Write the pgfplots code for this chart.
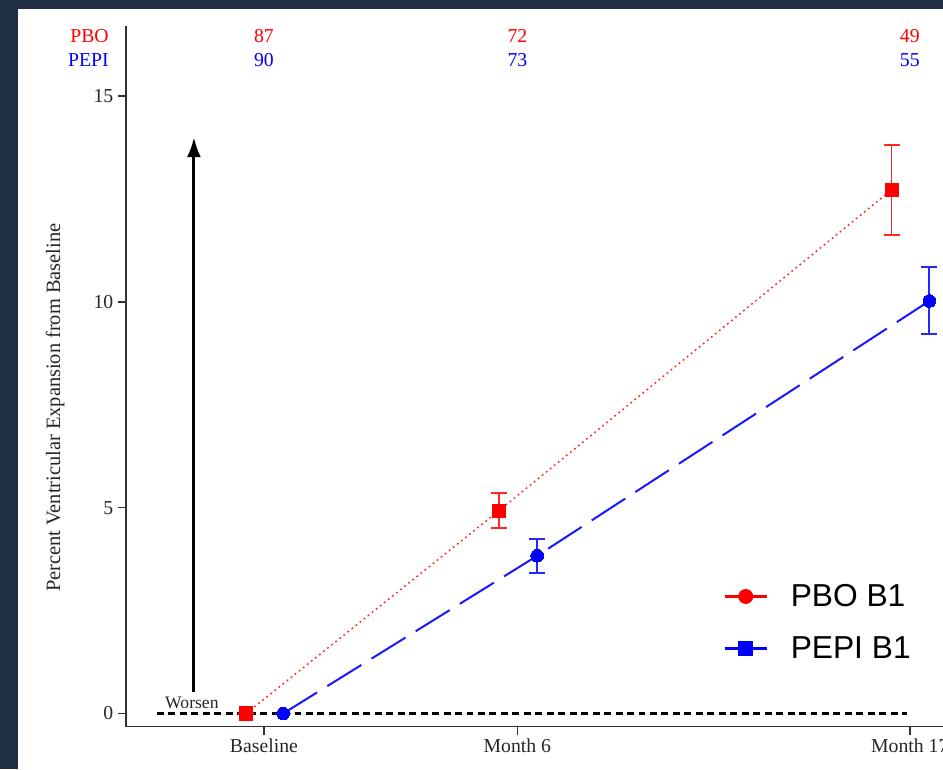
\documentclass[border=0pt]{standalone}
\usepackage{pgfplots}
\pgfplotsset{compat=1.18}
\usepackage{fontspec}
\setmainfont{Liberation Serif}
\newfontfamily\legfont{Liberation Sans}
\usetikzlibrary{arrows.meta}
\definecolor{navy}{RGB}{31,47,65}
\definecolor{pred}{RGB}{255,0,0}
\definecolor{pblue}{RGB}{0,0,255}
\definecolor{axgray}{RGB}{50,50,50}

\begin{document}
\begin{tikzpicture}[x=0.75pt,y=0.75pt]
\fill[navy] (0,0) rectangle (943,-769);
\fill[white] (18,-9) rectangle (943,-769);
\begin{axis}[
  at={(94.5pt,-544.875pt)}, anchor=south west,
  scale only axis, width=625.5pt, height=525.4pt,
  xmin=-0.544, xmax=2.746, ymin=-0.316, ymax=16.70,
  axis x line*=bottom, axis y line*=left,
  x axis line style={-}, y axis line style={-},
  axis line style={line width=1.4pt, axgray},
  clip=false,
  xtick={0,1,2.548}, xticklabels={Baseline, Month 6, Month 17},
  ytick={0,5,10,15},
  tick align=outside, major tick length=6pt,
  tick style={line width=1.1pt, axgray},
  /pgf/number format/assume math mode=true,
  ticklabel style={font=\fontsize{14.8}{17}\selectfont, text=black!85},
  ylabel={Percent Ventricular Expansion from Baseline},
  every axis y label/.style={at={(axis description cs:-0.0851,0.455)}, rotate=90, anchor=center, font=\fontsize{15.3}{17}\selectfont, text=black!85},
  legend style={draw=none, fill=none, at={(axis description cs:0.716,0.1486)}, anchor=west,
    font=\legfont\fontsize{23.8}{28}\selectfont, row sep=17pt, inner sep=0pt},
  legend cell align=left,
  legend image code/.code={\draw[mark repeat=2,mark phase=2,#1] plot coordinates {(0cm,0cm) (0.55cm,0cm) (1.1cm,0cm)};
     \path (1.1cm+15pt,0pt);},
]
% zero reference line
\addplot[forget plot, black, line width=1.9pt, dash pattern=on 5.2pt off 3.4pt] coordinates {(-0.422,0) (2.537,0)};
% PBO
\addplot[forget plot, pred!85!white, line width=1.1pt, dash pattern=on 1.3pt off 2.6pt, mark=square*, mark size=4.9pt,
  mark options={solid, fill=pred, draw=pred, line width=0pt},
  error bars/.cd, y dir=both, y explicit,
  error bar style={pred!85!white, line width=1.3pt, solid},
  error mark options={rotate=90, mark size=6pt, pred!85!white, line width=1.3pt}]
  coordinates {
  (-0.070,0) +- (0,0)
  (0.928,4.93) += (0,0.43) -= (0,0.43)
  (2.476,12.72) += (0,1.09) -= (0,1.10)
  };
% PEPI
\addplot[forget plot, pblue!90!white, line width=1.5pt, dash pattern=on 30pt off 9pt, mark=*, mark size=4.75pt,
  mark options={solid, fill=pblue, draw=pblue, line width=0pt},
  error bars/.cd, y dir=both, y explicit,
  error bar style={pblue!85!white, line width=1.3pt, solid},
  error mark options={rotate=90, mark size=6pt, pblue!85!white, line width=1.3pt}]
  coordinates {
  (0.076,0) +- (0,0)
  (1.078,3.83) += (0,0.41) -= (0,0.41)
  (2.625,10.02) += (0,0.83) -= (0,0.80)
  };
\addlegendimage{pred, line width=2.2pt, mark=*, mark size=4.5pt, mark options={fill=pred}}
\addlegendentry{PBO B1}
\addlegendimage{pblue, line width=2.2pt, mark=square*, mark size=4.5pt, mark options={fill=pblue}}
\addlegendentry{PEPI B1}
% worsen arrow
\draw[-{Latex[length=15pt,width=10.5pt]}, line width=2.2pt, black] (axis cs:-0.276,0.52) -- (axis cs:-0.276,14.0);
\node[font=\fontsize{13.2}{15}\selectfont, text=black!85] at (axis cs:-0.284,0.27) {Worsen};
% counts
\node[anchor=east, inner sep=0pt, text=pred, font=\fontsize{14.8}{17}\selectfont] at (axis cs:-0.611,16.46) {PBO};
\node[anchor=east, inner sep=0pt, text=pblue, font=\fontsize{14.8}{17}\selectfont] at (axis cs:-0.611,15.87) {PEPI};
\node[text=pred, font=\fontsize{14.8}{17}\selectfont] at (axis cs:0,16.46) {87};
\node[text=pred, font=\fontsize{14.8}{17}\selectfont] at (axis cs:1,16.46) {72};
\node[text=pred, font=\fontsize{14.8}{17}\selectfont] at (axis cs:2.548,16.46) {49};
\node[text=pblue, font=\fontsize{14.8}{17}\selectfont] at (axis cs:0,15.87) {90};
\node[text=pblue, font=\fontsize{14.8}{17}\selectfont] at (axis cs:1,15.87) {73};
\node[text=pblue, font=\fontsize{14.8}{17}\selectfont] at (axis cs:2.548,15.87) {55};
\end{axis}
\pgfresetboundingbox
\useasboundingbox (0,0) rectangle (943,-769);
\end{tikzpicture}
\end{document}
